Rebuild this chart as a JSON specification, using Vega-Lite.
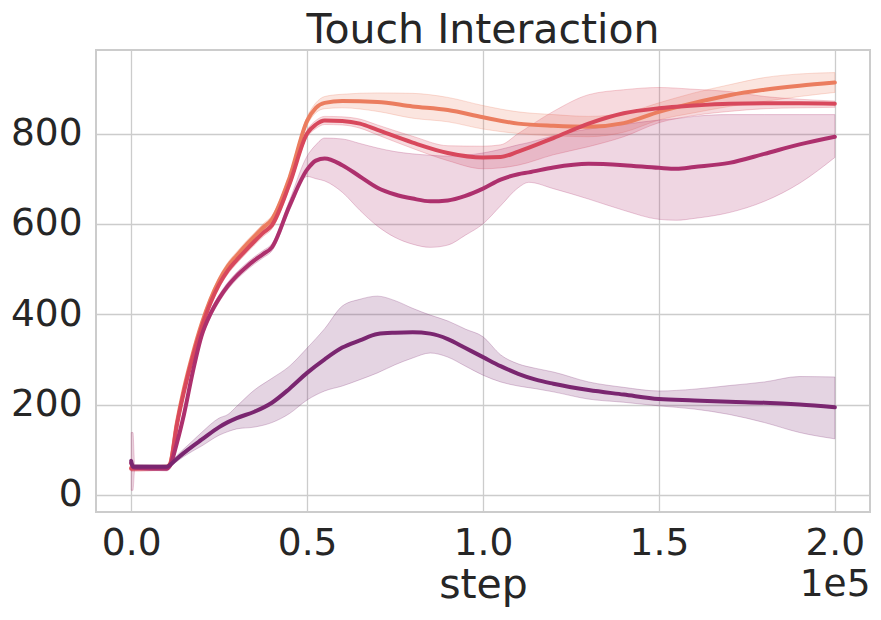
{
  "$schema": "https://vega.github.io/schema/vega-lite/v6.json",
  "width": 774,
  "height": 462,
  "autosize": {"type": "none"},
  "padding": {"left": 96, "top": 50, "right": 11, "bottom": 108},
  "background": "white",
  "title": {
    "text": "Touch Interaction",
    "font": "DejaVu Sans",
    "fontSize": 41,
    "fontWeight": "normal",
    "color": "#262626",
    "offset": -2
  },
  "config": {
    "view": {"stroke": "#cccccc", "strokeWidth": 2},
    "axis": {
      "labelFont": "DejaVu Sans",
      "labelFontSize": 37.5,
      "labelColor": "#262626",
      "titleFont": "DejaVu Sans",
      "titleFontSize": 41,
      "titleFontWeight": "normal",
      "titleColor": "#262626",
      "domain": false,
      "ticks": false,
      "gridColor": "#cccccc",
      "gridWidth": 1.3,
      "gridOpacity": 1
    }
  },
  "data": {
    "values": [
      {"s": "a", "step": 0, "m": 60, "lo": 55, "hi": 66},
      {"s": "a", "step": 10000, "m": 62, "lo": 58, "hi": 66},
      {"s": "a", "step": 11000, "m": 68, "lo": 62, "hi": 74},
      {"s": "a", "step": 13000, "m": 160, "lo": 152, "hi": 168},
      {"s": "a", "step": 15000, "m": 235, "lo": 227, "hi": 243},
      {"s": "a", "step": 17500, "m": 312, "lo": 304, "hi": 320},
      {"s": "a", "step": 20000, "m": 378, "lo": 370, "hi": 386},
      {"s": "a", "step": 22500, "m": 432, "lo": 424, "hi": 440},
      {"s": "a", "step": 25000, "m": 475, "lo": 467, "hi": 483},
      {"s": "a", "step": 27500, "m": 507, "lo": 499, "hi": 515},
      {"s": "a", "step": 30000, "m": 530, "lo": 522, "hi": 538},
      {"s": "a", "step": 32500, "m": 552, "lo": 544, "hi": 560},
      {"s": "a", "step": 35000, "m": 572, "lo": 564, "hi": 580},
      {"s": "a", "step": 37500, "m": 592, "lo": 584, "hi": 600},
      {"s": "a", "step": 40000, "m": 610, "lo": 602, "hi": 618},
      {"s": "a", "step": 45000, "m": 702, "lo": 694, "hi": 710},
      {"s": "a", "step": 50000, "m": 828, "lo": 819, "hi": 837},
      {"s": "a", "step": 52500, "m": 857, "lo": 846, "hi": 868},
      {"s": "a", "step": 55000, "m": 868, "lo": 855, "hi": 882},
      {"s": "a", "step": 60000, "m": 872, "lo": 857, "hi": 887},
      {"s": "a", "step": 70000, "m": 870, "lo": 849, "hi": 890},
      {"s": "a", "step": 80000, "m": 860, "lo": 834, "hi": 889},
      {"s": "a", "step": 90000, "m": 852, "lo": 826, "hi": 880},
      {"s": "a", "step": 100000, "m": 836, "lo": 810, "hi": 862},
      {"s": "a", "step": 110000, "m": 822, "lo": 800, "hi": 848},
      {"s": "a", "step": 120000, "m": 817, "lo": 795, "hi": 842},
      {"s": "a", "step": 130000, "m": 815, "lo": 793, "hi": 838},
      {"s": "a", "step": 140000, "m": 823, "lo": 803, "hi": 845},
      {"s": "a", "step": 150000, "m": 848, "lo": 830, "hi": 868},
      {"s": "a", "step": 160000, "m": 868, "lo": 846, "hi": 890},
      {"s": "a", "step": 170000, "m": 885, "lo": 860, "hi": 908},
      {"s": "a", "step": 180000, "m": 897, "lo": 871, "hi": 924},
      {"s": "a", "step": 190000, "m": 906, "lo": 882, "hi": 932},
      {"s": "a", "step": 200000, "m": 913, "lo": 891, "hi": 935},

      {"s": "b", "step": 0, "m": 58, "lo": 52, "hi": 64},
      {"s": "b", "step": 10000, "m": 60, "lo": 55, "hi": 65},
      {"s": "b", "step": 11000, "m": 66, "lo": 60, "hi": 72},
      {"s": "b", "step": 13000, "m": 155, "lo": 147, "hi": 163},
      {"s": "b", "step": 15000, "m": 228, "lo": 220, "hi": 236},
      {"s": "b", "step": 17500, "m": 305, "lo": 297, "hi": 313},
      {"s": "b", "step": 20000, "m": 370, "lo": 362, "hi": 378},
      {"s": "b", "step": 22500, "m": 424, "lo": 416, "hi": 432},
      {"s": "b", "step": 25000, "m": 466, "lo": 458, "hi": 474},
      {"s": "b", "step": 27500, "m": 497, "lo": 489, "hi": 505},
      {"s": "b", "step": 30000, "m": 520, "lo": 512, "hi": 528},
      {"s": "b", "step": 32500, "m": 541, "lo": 533, "hi": 549},
      {"s": "b", "step": 35000, "m": 561, "lo": 553, "hi": 569},
      {"s": "b", "step": 37500, "m": 580, "lo": 572, "hi": 588},
      {"s": "b", "step": 40000, "m": 597, "lo": 589, "hi": 605},
      {"s": "b", "step": 45000, "m": 688, "lo": 680, "hi": 696},
      {"s": "b", "step": 50000, "m": 800, "lo": 792, "hi": 808},
      {"s": "b", "step": 52500, "m": 820, "lo": 811, "hi": 829},
      {"s": "b", "step": 55000, "m": 829, "lo": 820, "hi": 838},
      {"s": "b", "step": 60000, "m": 828, "lo": 819, "hi": 837},
      {"s": "b", "step": 65000, "m": 822, "lo": 812, "hi": 832},
      {"s": "b", "step": 70000, "m": 808, "lo": 797, "hi": 819},
      {"s": "b", "step": 80000, "m": 780, "lo": 767, "hi": 794},
      {"s": "b", "step": 90000, "m": 757, "lo": 740, "hi": 773},
      {"s": "b", "step": 100000, "m": 747, "lo": 722, "hi": 772},
      {"s": "b", "step": 105000, "m": 748, "lo": 724, "hi": 775},
      {"s": "b", "step": 110000, "m": 760, "lo": 730, "hi": 800},
      {"s": "b", "step": 120000, "m": 790, "lo": 753, "hi": 849},
      {"s": "b", "step": 130000, "m": 822, "lo": 771, "hi": 886},
      {"s": "b", "step": 140000, "m": 845, "lo": 793, "hi": 897},
      {"s": "b", "step": 150000, "m": 856, "lo": 824, "hi": 902},
      {"s": "b", "step": 160000, "m": 862, "lo": 840, "hi": 898},
      {"s": "b", "step": 170000, "m": 866, "lo": 849, "hi": 893},
      {"s": "b", "step": 180000, "m": 867, "lo": 855, "hi": 882},
      {"s": "b", "step": 190000, "m": 867, "lo": 857, "hi": 876},
      {"s": "b", "step": 200000, "m": 866, "lo": 858, "hi": 872},

      {"s": "c", "step": 0, "m": 70, "lo": 10, "hi": 138},
      {"s": "c", "step": 500, "m": 62, "lo": 10, "hi": 138},
      {"s": "c", "step": 1000, "m": 60, "lo": 55, "hi": 65},
      {"s": "c", "step": 10000, "m": 58, "lo": 53, "hi": 63},
      {"s": "c", "step": 11000, "m": 64, "lo": 58, "hi": 70},
      {"s": "c", "step": 13000, "m": 115, "lo": 108, "hi": 122},
      {"s": "c", "step": 15000, "m": 178, "lo": 170, "hi": 186},
      {"s": "c", "step": 17500, "m": 272, "lo": 264, "hi": 280},
      {"s": "c", "step": 20000, "m": 352, "lo": 344, "hi": 360},
      {"s": "c", "step": 22500, "m": 400, "lo": 392, "hi": 408},
      {"s": "c", "step": 25000, "m": 435, "lo": 427, "hi": 443},
      {"s": "c", "step": 27500, "m": 463, "lo": 455, "hi": 471},
      {"s": "c", "step": 30000, "m": 485, "lo": 477, "hi": 493},
      {"s": "c", "step": 32500, "m": 503, "lo": 495, "hi": 511},
      {"s": "c", "step": 35000, "m": 519, "lo": 511, "hi": 527},
      {"s": "c", "step": 37500, "m": 533, "lo": 525, "hi": 541},
      {"s": "c", "step": 40000, "m": 548, "lo": 540, "hi": 556},
      {"s": "c", "step": 45000, "m": 640, "lo": 630, "hi": 652},
      {"s": "c", "step": 50000, "m": 720, "lo": 705, "hi": 750},
      {"s": "c", "step": 52500, "m": 740, "lo": 700, "hi": 775},
      {"s": "c", "step": 55000, "m": 745, "lo": 695, "hi": 790},
      {"s": "c", "step": 60000, "m": 730, "lo": 670, "hi": 788},
      {"s": "c", "step": 65000, "m": 705, "lo": 630, "hi": 778},
      {"s": "c", "step": 70000, "m": 680, "lo": 595, "hi": 768},
      {"s": "c", "step": 75000, "m": 665, "lo": 570, "hi": 760},
      {"s": "c", "step": 80000, "m": 656, "lo": 555, "hi": 755},
      {"s": "c", "step": 85000, "m": 650, "lo": 548, "hi": 752},
      {"s": "c", "step": 90000, "m": 652, "lo": 553, "hi": 750},
      {"s": "c", "step": 95000, "m": 662, "lo": 575, "hi": 752},
      {"s": "c", "step": 100000, "m": 678, "lo": 600, "hi": 757},
      {"s": "c", "step": 105000, "m": 698, "lo": 640, "hi": 765},
      {"s": "c", "step": 110000, "m": 710, "lo": 680, "hi": 775},
      {"s": "c", "step": 113000, "m": 714, "lo": 692, "hi": 780},
      {"s": "c", "step": 120000, "m": 725, "lo": 678, "hi": 795},
      {"s": "c", "step": 130000, "m": 733, "lo": 655, "hi": 810},
      {"s": "c", "step": 140000, "m": 730, "lo": 630, "hi": 820},
      {"s": "c", "step": 150000, "m": 724, "lo": 610, "hi": 830},
      {"s": "c", "step": 155000, "m": 722, "lo": 608, "hi": 833},
      {"s": "c", "step": 160000, "m": 726, "lo": 612, "hi": 838},
      {"s": "c", "step": 170000, "m": 735, "lo": 625, "hi": 842},
      {"s": "c", "step": 180000, "m": 755, "lo": 650, "hi": 842},
      {"s": "c", "step": 190000, "m": 776, "lo": 690, "hi": 842},
      {"s": "c", "step": 200000, "m": 793, "lo": 747, "hi": 842},

      {"s": "d", "step": 0, "m": 75, "lo": 58, "hi": 80},
      {"s": "d", "step": 500, "m": 62, "lo": 57, "hi": 67},
      {"s": "d", "step": 10000, "m": 62, "lo": 58, "hi": 66},
      {"s": "d", "step": 11000, "m": 66, "lo": 61, "hi": 71},
      {"s": "d", "step": 13000, "m": 80, "lo": 74, "hi": 87},
      {"s": "d", "step": 15000, "m": 93, "lo": 85, "hi": 102},
      {"s": "d", "step": 17500, "m": 108, "lo": 97, "hi": 120},
      {"s": "d", "step": 20000, "m": 122, "lo": 108, "hi": 138},
      {"s": "d", "step": 25000, "m": 150, "lo": 132, "hi": 170},
      {"s": "d", "step": 27500, "m": 161, "lo": 140, "hi": 178},
      {"s": "d", "step": 30000, "m": 170, "lo": 146, "hi": 196},
      {"s": "d", "step": 35000, "m": 184, "lo": 150, "hi": 232},
      {"s": "d", "step": 40000, "m": 204, "lo": 160, "hi": 258},
      {"s": "d", "step": 45000, "m": 235, "lo": 180, "hi": 285},
      {"s": "d", "step": 50000, "m": 270, "lo": 210, "hi": 325},
      {"s": "d", "step": 55000, "m": 300, "lo": 230, "hi": 368},
      {"s": "d", "step": 60000, "m": 326, "lo": 241, "hi": 418},
      {"s": "d", "step": 65000, "m": 342, "lo": 255, "hi": 433},
      {"s": "d", "step": 70000, "m": 356, "lo": 270, "hi": 440},
      {"s": "d", "step": 75000, "m": 359, "lo": 288, "hi": 430},
      {"s": "d", "step": 80000, "m": 360, "lo": 303, "hi": 413},
      {"s": "d", "step": 85000, "m": 357, "lo": 314, "hi": 398},
      {"s": "d", "step": 90000, "m": 345, "lo": 305, "hi": 385},
      {"s": "d", "step": 95000, "m": 325, "lo": 285, "hi": 367},
      {"s": "d", "step": 100000, "m": 305, "lo": 265, "hi": 350},
      {"s": "d", "step": 105000, "m": 285, "lo": 250, "hi": 310},
      {"s": "d", "step": 110000, "m": 268, "lo": 241, "hi": 290},
      {"s": "d", "step": 115000, "m": 255, "lo": 235, "hi": 280},
      {"s": "d", "step": 120000, "m": 246, "lo": 228, "hi": 272},
      {"s": "d", "step": 130000, "m": 232, "lo": 212, "hi": 250},
      {"s": "d", "step": 140000, "m": 222, "lo": 205, "hi": 238},
      {"s": "d", "step": 150000, "m": 212, "lo": 197, "hi": 230},
      {"s": "d", "step": 160000, "m": 209, "lo": 190, "hi": 234},
      {"s": "d", "step": 170000, "m": 206, "lo": 178, "hi": 242},
      {"s": "d", "step": 180000, "m": 204, "lo": 160, "hi": 250},
      {"s": "d", "step": 190000, "m": 200, "lo": 138, "hi": 262},
      {"s": "d", "step": 200000, "m": 194, "lo": 124, "hi": 261}
    ]
  },
  "layer": [
    {
      "layer": [
        {
          "mark": {"type": "area", "interpolate": "monotone", "fillOpacity": 0.2, "strokeOpacity": 0.25, "strokeWidth": 1},
          "encoding": {
            "x": {
              "field": "step",
              "type": "quantitative",
              "scale": {"domain": [-10000, 210000], "nice": false, "zero": false},
              "axis": {
                "values": [0, 50000, 100000, 150000, 200000],
                "labelExpr": "format(datum.value / 100000, '.1f')",
                "labelPadding": 12,
                "title": "step",
                "titlePadding": 4
              }
            },
            "y": {
              "field": "lo",
              "type": "quantitative",
              "scale": {"domain": [-38, 985], "nice": false, "zero": false},
              "axis": {
                "values": [0, 200, 400, 600, 800],
                "labelPadding": 14,
                "title": null
              }
            },
            "y2": {"field": "hi"},
            "color": {
              "field": "s",
              "type": "nominal",
              "scale": {"domain": ["a", "b", "c", "d"], "range": ["#eb7d5f", "#d8485c", "#ad306d", "#7a2670"]},
              "legend": null
            },
            "stroke": {
              "field": "s",
              "type": "nominal",
              "scale": {"domain": ["a", "b", "c", "d"], "range": ["#eb7d5f", "#d8485c", "#ad306d", "#7a2670"]},
              "legend": null
            }
          }
        },
        {
          "mark": {"type": "line", "interpolate": "monotone", "strokeWidth": 4, "strokeCap": "round", "strokeJoin": "round"},
          "encoding": {
            "x": {"field": "step", "type": "quantitative"},
            "y": {"field": "m", "type": "quantitative"},
            "color": {"field": "s", "type": "nominal", "legend": null}
          }
        }
      ]
    },
    {
      "mark": {"type": "point", "opacity": 0},
      "encoding": {
        "x": {
          "field": "step",
          "type": "quantitative",
          "scale": {"domain": [-10000, 210000], "nice": false, "zero": false},
          "axis": {
            "orient": "bottom",
            "labels": false,
            "grid": false,
            "title": "1e5",
            "titleFontSize": 37.5,
            "titleAnchor": "end",
            "titleAlign": "right",
            "titleBaseline": "top",
            "titleX": 774,
            "titleY": 53
          }
        }
      }
    }
  ],
  "resolve": {"scale": {"x": "independent"}, "axis": {"x": "independent"}}
}
